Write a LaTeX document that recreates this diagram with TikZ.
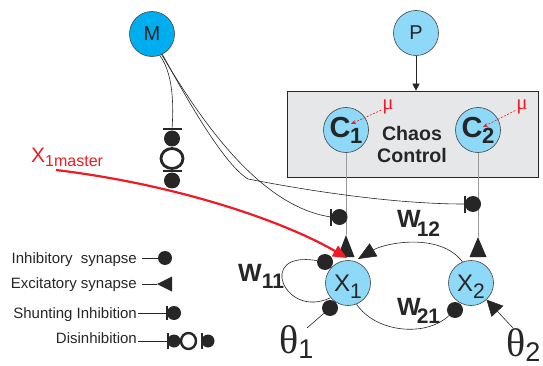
\documentclass[tikz,border=0pt]{standalone}
\usepackage{fontspec}
\setmainfont{Liberation Sans}
\newfontfamily\serifgr{Liberation Serif}
\usetikzlibrary{arrows.meta,calc}
\definecolor{mblue}{HTML}{00AEEF}
\definecolor{lblue}{HTML}{8ED8F8}
\definecolor{boxgray}{HTML}{E6E7E8}
\definecolor{sred}{HTML}{ED1C24}
\tikzset{
 neuron/.style={circle,draw=black!75,line width=0.6pt,minimum size=45pt,inner sep=0pt,fill=lblue,text=black!85},
 inh/.style={circle,fill=black!85,minimum size=16pt,inner sep=0pt},
 vbar/.style={rectangle,fill=black!85,inner sep=0pt,minimum width=2pt,minimum height=17pt},
 hbar/.style={rectangle,fill=black!85,inner sep=0pt,minimum width=19pt,minimum height=2pt},
 ringline/.style={draw=black!85,line width=2.8pt},
 conn/.style={line width=0.6pt,draw=black!85},
 gline/.style={line width=0.7pt,draw=black!40},
 legtxt/.style={anchor=base east,inner sep=0pt,text=black!85,font=\fontsize{15}{15}\selectfont},
 wlab/.style={anchor=base west,inner sep=0pt,text=black!85},
 mudash/.style={sred,line width=0.6pt,dash pattern=on 2pt off 1.5pt,-{Stealth[length=5pt,width=4pt]}},
}
\begin{document}
\begin{tikzpicture}[x=1pt,y=-1pt]
\useasboundingbox (0,0) rectangle (543,366);

% chaos control box
\node[draw=black!85,fill=boxgray,line width=0.6pt,minimum width=251pt,minimum height=86pt,inner sep=0pt] (box) at (412.5,134) {};
\node[align=center,text=black!85,font=\fontsize{19.6}{22}\bfseries] (cc) at (412,144) {Chaos\\Control};

% neurons
\node[neuron,fill=mblue,font=\fontsize{20}{20}\selectfont] (M) at (152,34) {M};
\node[neuron,font=\fontsize{20}{20}\selectfont] (P) at (416,33) {P};
\node[neuron] (C1) at (346,130) {\fontsize{29}{29}\bfseries C\kern-0.5pt\raisebox{-6pt}{\fontsize{22}{22}\bfseries 1}};
\node[neuron] (C2) at (478,130) {\fontsize{29}{29}\bfseries C\kern-0.5pt\raisebox{-6pt}{\fontsize{22}{22}\bfseries 2}};
\node[neuron,label={[yshift=-4pt,text=black!85]center:{\fontsize{24}{24}\selectfont X\raisebox{-7pt}{\fontsize{21}{21}\selectfont 1}}}] (X1) at (348,283) {};
\node[neuron,label={[yshift=-4pt,text=black!85]center:{\fontsize{24}{24}\selectfont X\raisebox{-7pt}{\fontsize{21}{21}\selectfont 2}}}] (X2) at (471,283) {};

% P -> box
\draw[conn,-{Triangle[length=7pt,width=7pt]}] (P) -- (P |- box.north);

% mu
\node[text=sred,inner sep=1pt,font=\serifgr\fontsize{21}{21}\selectfont] (mu1) at (388,107) {μ};
\node[text=sred,inner sep=1pt,font=\serifgr\fontsize{21}{21}\selectfont] (mu2) at (522,107) {μ};
\coordinate (c1in) at (351,124);
\coordinate (c2in) at (483,127);
\draw[mudash] (mu1) -- (c1in);
\draw[mudash] (mu2) -- (c2in);

% C lines with excitatory synapses
\coordinate (e1) at (346,235);
\coordinate (e2) at (478,237);
\draw[gline] (C1) -- (e1);
\draw[gline] (C2) -- (e2);
\fill[black!85] (e1) -- ++(-8.5,22) -- ++(17,0) -- cycle;
\fill[black!85] (e2) -- ++(-8.5,20) -- ++(17,0) -- cycle;

% shunting synapses
\node[vbar] (s1bar) at (331,217) {};
\node[inh] (s1dot) at (339.5,217) {};
\node[vbar] (s2bar) at (465,204) {};
\node[inh] (s2dot) at (473,204) {};

% disinhibition on M line
\node[hbar] (db1) at (172,129) {};
\node[inh] (dd1) at (172,138.5) {};
\coordinate (dr) at (172,158.5);
\draw[ringline] (dr) ellipse [x radius=11, y radius=10];
\node[hbar] (db2) at (172,171.5) {};
\node[inh] (dd2) at (172,180.5) {};

% lines from M
\draw[conn] (M.-70) .. controls (172,72) and (174,100) .. (db1);
\draw[conn] (M.-65) .. controls (195,110) and (255,205) .. (s1bar);
\coordinate (br) at (248,179);
\draw[conn] (M.-63) .. controls (190,105) and (225,165) .. (br) .. controls (320,193) and (400,204) .. (s2bar);

% X1master input
\node[anchor=base west,inner sep=0pt,text=sred,font=\fontsize{21}{21}\selectfont] (xm) at (31,163) {X\raisebox{-4pt}{\fontsize{16}{16}\selectfont 1master}};
\coordinate (xms) at (56,170);
\coordinate (redtip) at (347,258);
\draw[sred,line width=2.2pt,-{Triangle[length=14pt,width=12pt]}] (xms) .. controls (180,185) and (285,222) .. (redtip);

% recurrent connections
\node[inh] (ld) at (325,262) {};
\draw[conn] (X1.220) .. controls (285,320) and (255,250) .. (ld);
\coordinate (w12tip) at (358,259);
\draw[conn,-{Triangle[length=18pt,width=15pt]}] (X2.112) .. controls (440,232) and (385,243) .. (w12tip);
\node[inh] (w21d) at (455,310) {};
\draw[conn] (X1.-68) .. controls (375,332) and (425,338) .. (w21d);

% thresholds
\node[inh] (thd1) at (330,308) {};
\coordinate (t1) at (307,328);
\draw[conn] (t1) -- (thd1);
\coordinate (t2) at (513,328);
\draw[conn,-{Triangle[length=16pt,width=16pt]}] (t2) -- (X2);
\node[anchor=base west,inner sep=0pt,text=black!85] (th1) at (279,353) {{\serifgr\fontsize{40}{40}\selectfont θ}\raisebox{-5pt}{\fontsize{27}{27}\selectfont 1}};
\node[anchor=base west,inner sep=0pt,text=black!85] (th2) at (506,356) {{\serifgr\fontsize{40}{40}\selectfont θ}\raisebox{-5pt}{\fontsize{27}{27}\selectfont 2}};

% weight labels
\node[wlab] (w11) at (238,281) {\fontsize{25}{25}\bfseries W\kern0pt\raisebox{-7pt}{\fontsize{21}{21}\bfseries 11}};
\node[wlab] (w12) at (397,227) {\fontsize{25}{25}\bfseries W\kern-4pt\raisebox{-9pt}{\fontsize{21}{21}\bfseries 12}};
\node[wlab] (w21) at (397,315) {\fontsize{25}{25}\bfseries W\kern-4pt\raisebox{-8pt}{\fontsize{21}{21}\bfseries 21}};

% legend
\node[legtxt] (lt1) at (137,263) {Inhibitory~ synapse};
\node[legtxt] (lt2) at (137,288) {Excitatory synapse};
\node[legtxt] (lt3) at (137,318) {Shunting Inhibition};
\node[legtxt] (lt4) at (137,343) {Disinhibition};

\coordinate (li0) at (142,258);
\node[inh,minimum size=14pt] (li) at (165,258) {};
\draw[conn] (li0) -- (li);

\coordinate (le0) at (142,284);
\coordinate (le1) at (157,284);
\draw[conn] (le0) -- (le1);
\fill[black!85] (le1) -- ++(15,-7.5) -- ++(0,15) -- cycle;

\coordinate (ls0) at (138,313);
\node[vbar,minimum height=14pt] (lsb) at (167,313) {};
\node[inh,minimum size=14pt] (lsd) at (174,313) {};
\draw[conn] (ls0) -- (lsb);

\coordinate (ld0) at (138,341);
\node[vbar,minimum height=16pt] (ldb1) at (168,341) {};
\node[inh,minimum size=13pt] (ldd1) at (174,341) {};
\coordinate (ldr) at (188.5,341);
\draw[ringline,line width=2.4pt] (ldr) ellipse [x radius=7.5, y radius=8];
\node[vbar,minimum height=16pt] (ldb2) at (202,341) {};
\node[inh,minimum size=13pt] (ldd2) at (208,341) {};
\draw[conn] (ld0) -- (ldb1);
\end{tikzpicture}
\end{document}
